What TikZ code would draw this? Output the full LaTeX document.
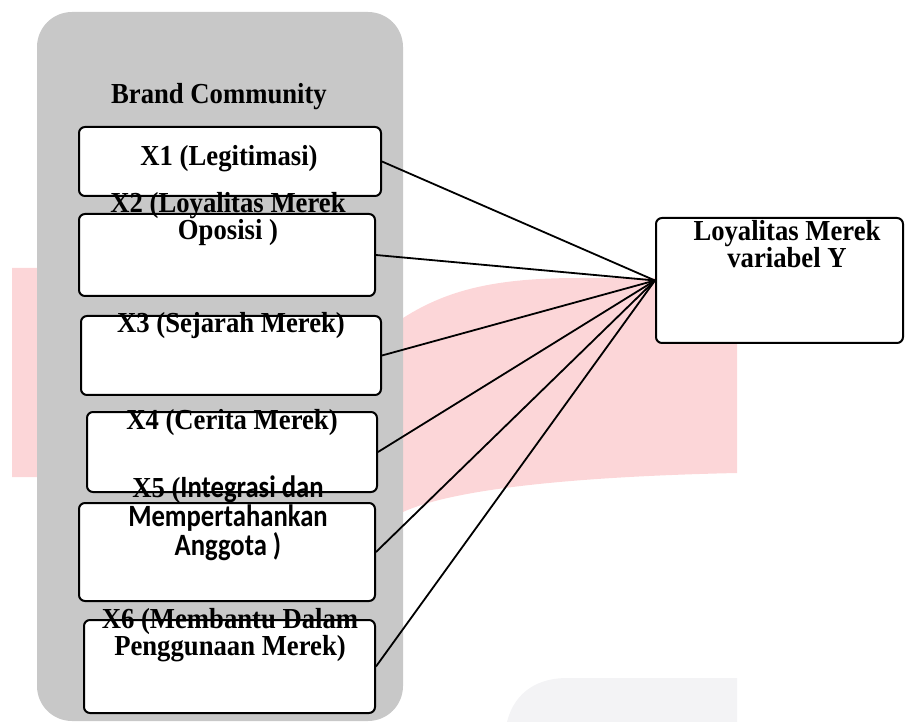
\documentclass[tikz,border=0pt]{standalone}
\usepackage{fontspec}
\newfontfamily\timesbf[FakeStretch=0.92]{Liberation Serif}
\newfontfamily\calibribf[FakeStretch=0.86]{Carlito}
\usetikzlibrary{positioning}
\definecolor{panelgrey}{RGB}{200,200,200}
\definecolor{markpink}{RGB}{252,214,216}
\definecolor{markgrey}{RGB}{243,243,245}
\newcommand{\calibritext}[1]{{\calibribf\fontsize{31}{27}\selectfont #1}}

\begin{document}
\begin{tikzpicture}[x=1pt, y=-1pt,
	varbox/.style={draw, line width=2pt, fill=white, rounded corners=6pt},
	lbl/.style={font=\timesbf\bfseries\fontsize{29}{27}\selectfont, align=center, anchor=base, inner sep=0pt},
	link/.style={line width=1.8pt}]
	\useasboundingbox (0,0) rectangle (906,722);
	\fill[markpink] (12,268) -- (395,268) -- (395,318) -- (403,318) .. controls (450,288) and (500,278) .. (580,278) -- (737,278) -- (737,473) .. controls (600,476) and (460,486) .. (403,512) -- (395,512) -- (395,477) -- (12,477) -- cycle;
	\fill[markgrey] (507,722) .. controls (515,690) and (540,678) .. (567,678) -- (737,678) -- (737,722) -- cycle;
	\node[fill=panelgrey, rounded corners=35pt, minimum width=366pt, minimum height=709pt] (community) at (220,366.5) {};

	\node[varbox, minimum width=302pt, minimum height=69pt] (x1) at (230,161.5) {};
	\node[varbox, minimum width=296pt, minimum height=82pt] (x2) at (227,255) {};
	\node[varbox, minimum width=300pt, minimum height=79pt] (x3) at (231,355.5) {};
	\node[varbox, minimum width=290pt, minimum height=80pt] (x4) at (232,452) {};
	\node[varbox, minimum width=296pt, minimum height=98pt] (x5) at (227,552) {};
	\node[varbox, minimum width=291pt, minimum height=93pt] (x6) at (229.5,666.5) {};
	\node[varbox, minimum width=247pt, minimum height=125pt] (y) at (779.5,280.5) {};

	\foreach \i in {1,...,6}
		\draw[link] (x\i.east) -- (y.west);

	\node[lbl] (title) at (219,104) {Brand Community};
	\node[lbl] (l1) at (229,166) {X1 (Legitimasi)};
	\node[lbl] (l2) at (228,240) {X2 (Loyalitas Merek\\Oposisi )};
	\node[lbl] (l3) at (231,333) {X3 (Sejarah Merek)};
	\node[lbl] (l4) at (232,429) {X4 (Cerita Merek)};
	\node[lbl] (l5) at (228,555) {X5 (\calibritext{Integrasi dan}\\\calibritext{Mempertahankan}\\\calibritext{Anggota )}};
	\node[lbl] (l6) at (230,655) {X6 (Membantu Dalam\\Penggunaan Merek)};
	\node[lbl] (ly) at (787,268) {Loyalitas Merek\\variabel Y};
\end{tikzpicture}
\end{document}
